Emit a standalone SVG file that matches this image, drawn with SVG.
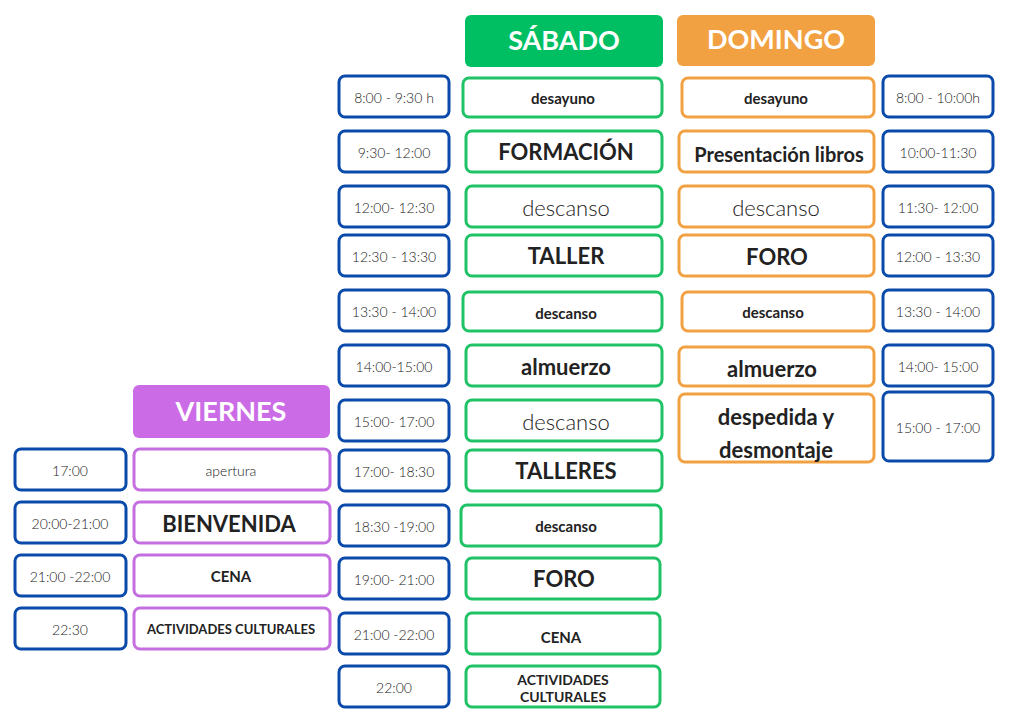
<svg xmlns="http://www.w3.org/2000/svg" width="1024" height="724" viewBox="0 0 1024 724">
<style>
.b{fill:#fff;stroke:#0a4aab;stroke-width:3}
.g{fill:#fff;stroke:#1fc365;stroke-width:3}
.o{fill:#fff;stroke:#f2a142;stroke-width:3}
.p{fill:#fff;stroke:#c56ee0;stroke-width:3}
text{font-family:Lato,"Open Sans",sans-serif;fill:#222;text-anchor:middle;dominant-baseline:central}
.t{font-size:14px;font-weight:300}
.s{font-size:15px;font-weight:700}
.m{font-size:22px;font-weight:700}
.l{font-size:22px;font-weight:300}
.h{font-size:27px;font-weight:700;fill:#fff}
</style>
<g id="headers">
<rect x="465" y="15" width="198" height="52" rx="6" fill="#00bf63"/><text class="h" x="564" y="39">SÁBADO</text>
<rect x="677" y="15" width="198" height="51" rx="6" fill="#f2a142"/><text class="h" x="776" y="38">DOMINGO</text>
<rect x="133" y="385" width="197" height="53" rx="6" fill="#cb6ce6"/><text class="h" x="231" y="410">VIERNES</text>
</g>
<g id="sat-times">
<rect class="b" x="339" y="76" width="110" height="41" rx="6"/><text class="t" x="394" y="97">8:00 - 9:30 h</text>
<rect class="b" x="339" y="131" width="110" height="41" rx="6"/><text class="t" x="394" y="152">9:30- 12:00</text>
<rect class="b" x="339" y="186" width="110" height="41" rx="6"/><text class="t" x="394" y="207">12:00- 12:30</text>
<rect class="b" x="339" y="235" width="110" height="41" rx="6"/><text class="t" x="394" y="256">12:30 - 13:30</text>
<rect class="b" x="339" y="290" width="110" height="41" rx="6"/><text class="t" x="394" y="311">13:30 - 14:00</text>
<rect class="b" x="339" y="345" width="110" height="41" rx="6"/><text class="t" x="394" y="366">14:00-15:00</text>
<rect class="b" x="339" y="400" width="110" height="41" rx="6"/><text class="t" x="394" y="421">15:00- 17:00</text>
<rect class="b" x="339" y="450" width="110" height="41" rx="6"/><text class="t" x="394" y="471">17:00- 18:30</text>
<rect class="b" x="339" y="505" width="110" height="41" rx="6"/><text class="t" x="394" y="526">18:30 -19:00</text>
<rect class="b" x="339" y="558" width="110" height="41" rx="6"/><text class="t" x="394" y="579">19:00- 21:00</text>
<rect class="b" x="339" y="613" width="110" height="41" rx="6"/><text class="t" x="394" y="634">21:00 -22:00</text>
<rect class="b" x="339" y="666" width="110" height="41" rx="6"/><text class="t" x="394" y="687">22:00</text>
</g>
<g id="sat-acts">
<rect class="g" x="463" y="78" width="199" height="39" rx="6"/><text class="s" x="563" y="98">desayuno</text>
<rect class="g" x="466" y="131" width="196" height="41" rx="6"/><text class="m" x="566" y="151">FORMACIÓN</text>
<rect class="g" x="466" y="186" width="196" height="41" rx="6"/><text class="l" x="566" y="207">descanso</text>
<rect class="g" x="466" y="235" width="196" height="41" rx="6"/><text class="m" x="566" y="255">TALLER</text>
<rect class="g" x="463" y="292" width="199" height="39" rx="6"/><text class="s" x="566" y="313">descanso</text>
<rect class="g" x="466" y="345" width="196" height="41" rx="6"/><text class="m" x="566" y="366">almuerzo</text>
<rect class="g" x="466" y="400" width="196" height="41" rx="6"/><text class="l" x="566" y="421">descanso</text>
<rect class="g" x="466" y="450" width="196" height="41" rx="6"/><text class="m" x="566" y="470">TALLERES</text>
<rect class="g" x="461" y="505" width="200" height="41" rx="6"/><text class="s" x="566" y="526">descanso</text>
<rect class="g" x="466" y="558" width="194" height="41" rx="6"/><text class="m" x="564" y="578">FORO</text>
<rect class="g" x="466" y="613" width="194" height="41" rx="6"/><text class="s" x="561" y="637">CENA</text>
<rect class="g" x="466" y="666" width="194" height="41" rx="6"/><text class="s" x="563" y="679" style="font-size:14px">ACTIVIDADES</text><text class="s" x="563" y="696" style="font-size:14px">CULTURALES</text>
</g>
<g id="sun-acts">
<rect class="o" x="682" y="78" width="192" height="39" rx="6"/><text class="s" x="776" y="98">desayuno</text>
<rect class="o" x="679" y="131" width="195" height="41" rx="6"/><text class="m" x="779" y="154" style="font-size:20px">Presentación libros</text>
<rect class="o" x="679" y="186" width="195" height="41" rx="6"/><text class="l" x="776" y="207">descanso</text>
<rect class="o" x="679" y="235" width="195" height="41" rx="6"/><text class="m" x="777" y="256">FORO</text>
<rect class="o" x="682" y="292" width="192" height="39" rx="6"/><text class="s" x="773" y="312">descanso</text>
<rect class="o" x="679" y="347" width="195" height="39" rx="6"/><text class="m" x="772" y="368">almuerzo</text>
<rect class="o" x="679" y="394" width="195" height="68" rx="6"/><text class="m" x="776" y="416">despedida y</text><text class="m" x="776" y="449">desmontaje</text>
</g>
<g id="sun-times">
<rect class="b" x="883" y="76" width="110" height="41" rx="6"/><text class="t" x="938" y="97">8:00 - 10:00h</text>
<rect class="b" x="883" y="131" width="110" height="41" rx="6"/><text class="t" x="938" y="152">10:00-11:30</text>
<rect class="b" x="883" y="186" width="110" height="41" rx="6"/><text class="t" x="938" y="207">11:30- 12:00</text>
<rect class="b" x="883" y="235" width="110" height="41" rx="6"/><text class="t" x="938" y="256">12:00 - 13:30</text>
<rect class="b" x="883" y="290" width="110" height="41" rx="6"/><text class="t" x="938" y="311">13:30 - 14:00</text>
<rect class="b" x="883" y="345" width="110" height="41" rx="6"/><text class="t" x="938" y="366">14:00- 15:00</text>
<rect class="b" x="883" y="392" width="110" height="69" rx="6"/><text class="t" x="938" y="427">15:00 - 17:00</text>
</g>
<g id="fri">
<rect class="b" x="15" y="449" width="111" height="41" rx="6"/><text class="t" x="70" y="470">17:00</text>
<rect class="b" x="15" y="502" width="111" height="41" rx="6"/><text class="t" x="70" y="523">20:00-21:00</text>
<rect class="b" x="15" y="555" width="111" height="41" rx="6"/><text class="t" x="70" y="576">21:00 -22:00</text>
<rect class="b" x="15" y="608" width="111" height="41" rx="6"/><text class="t" x="70" y="629">22:30</text>
<rect class="p" x="134" y="449" width="196" height="41" rx="6"/><text class="t" x="231" y="470">apertura</text>
<rect class="p" x="134" y="502" width="196" height="41" rx="6"/><text class="m" x="229" y="523">BIENVENIDA</text>
<rect class="p" x="134" y="555" width="196" height="41" rx="6"/><text class="s" x="231" y="576">CENA</text>
<rect class="p" x="134" y="608" width="196" height="41" rx="6"/><text class="s" x="231" y="629" style="font-size:13px">ACTIVIDADES CULTURALES</text>
</g>
<g id="connectors"/>
</svg>
